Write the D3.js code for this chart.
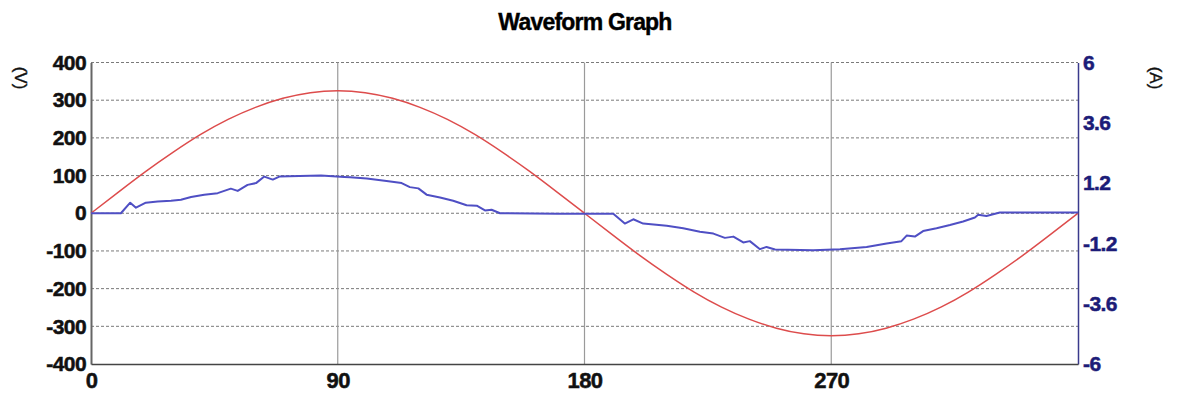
<!DOCTYPE html>
<html>
<head>
<meta charset="utf-8">
<script src="https://cdn.jsdelivr.net/npm/d3@7"></script>
<style>
  body { margin: 0; background: #fff; }
  svg { display: block; font-family: "Liberation Sans", Arial, sans-serif; }
</style>
</head>
<body>
<div id="chart"></div>
<script>
// phase angle (degrees) for the voltage trace
const voltageDeg = [0, 10, 20, 30, 40, 50, 60, 70, 80, 90, 100, 110, 120, 130, 140, 150, 160, 170, 180,
  190, 200, 210, 220, 230, 240, 250, 260, 270, 280, 290, 300, 310, 320, 330, 340, 350, 360];
// voltage (V)
const voltageV = [0, 56, 111, 162, 209, 249, 281, 305, 320, 325, 320, 305, 281, 249, 209, 162, 111, 56, 0,
  -56, -111, -162, -209, -249, -281, -305, -320, -325, -320, -305, -281, -249, -209, -162, -111, -56, 0];

// current trace (blue), right axis in A
const currentDeg = [0, 10.9, 14.3, 16.4, 20, 24.3, 29.2, 32.8, 36.5, 41.3, 46.2, 51, 53.5, 57.1, 60.2, 63.2,
  66.3, 68.7, 76, 83.9, 92.4, 94.5, 100.6, 107.8, 113.3, 116.3, 119.4, 122.4, 127.3, 132.1, 137, 140.7,
  143.7, 146.1, 149.2, 170, 190.5, 194.7, 197.8, 201.4, 210, 216, 222.1, 227, 231.2, 234.3, 237.9, 240.3,
  244, 246.4, 249.5, 263.4, 273.2, 282.9, 290.2, 295.6, 297.5, 300.5, 303.5, 308.4, 313.3, 318.1, 322.4,
  323.6, 326.6, 331.5, 360];
const currentA = [0, 0, 0.42, 0.22, 0.42, 0.47, 0.50, 0.54, 0.65, 0.74, 0.80, 0.98, 0.89, 1.13, 1.20, 1.46,
  1.34, 1.46, 1.48, 1.50, 1.44, 1.43, 1.38, 1.28, 1.20, 1.04, 0.99, 0.74, 0.63, 0.50, 0.32, 0.30,
  0.11, 0.14, 0, -0.02, -0.02, -0.41, -0.24, -0.41, -0.50, -0.60, -0.74, -0.81, -0.98, -0.93, -1.16, -1.11,
  -1.43, -1.34, -1.44, -1.47, -1.43, -1.34, -1.20, -1.11, -0.89, -0.93, -0.71, -0.60, -0.47, -0.33, -0.17,
  -0.06, -0.11, 0.03, 0.03];

const xTicks = [0, 90, 180, 270];
const vTicks = [400, 300, 200, 100, 0, -100, -200, -300, -400];
const aTicks = [6, 3.6, 1.2, -1.2, -3.6, -6];

const W = 1177, H = 403;
const margin = { top: 62.5, right: 99, bottom: 39, left: 91 };
const width = W - margin.left - margin.right;
const height = H - margin.top - margin.bottom;

const svg = d3.select("#chart").append("svg")
  .attr("width", W).attr("height", H);

const g = svg.append("g")
  .attr("transform", `translate(${margin.left},${margin.top})`);

// scales
const x = d3.scaleLinear().domain([0, 360]).range([0, width]);
const yV = d3.scaleLinear().domain([-400, 400]).range([height, 0]);
const yA = d3.scaleLinear().domain([-6, 6]).range([height, 0]);

// plain hyphen minus, like the original
const plain = d => String(d);

// title
svg.append("text")
  .attr("x", 585).attr("y", 30)
  .attr("text-anchor", "middle")
  .attr("font-size", 23).attr("font-weight", "bold")
  .attr("letter-spacing", -0.8)
  .attr("stroke", "#000").attr("stroke-width", 0.4)
  .text("Waveform Graph");

// horizontal dashed grid
g.append("g")
  .selectAll("line")
  .data(vTicks.filter(d => d !== -400))
  .join("line")
  .attr("x1", 0).attr("x2", width)
  .attr("y1", d => yV(d)).attr("y2", d => yV(d))
  .attr("stroke", "#7a7a7a").attr("stroke-width", 1)
  .attr("stroke-dasharray", "3,2");

// vertical grid
g.append("g")
  .selectAll("line")
  .data(xTicks.filter(d => d !== 0))
  .join("line")
  .attr("x1", d => x(d)).attr("x2", d => x(d))
  .attr("y1", 0).attr("y2", height)
  .attr("stroke", "#9a9a9a").attr("stroke-width", 1.2);

function styleTicks(sel, size, color) {
  sel.selectAll("text")
    .attr("font-size", size).attr("font-weight", "bold").attr("fill", color)
    .attr("stroke", color).attr("stroke-width", 0.5)
    .attr("letter-spacing", -0.6)
    .attr("font-family", "Liberation Sans, Arial, sans-serif");
}

// axes
const leftAxis = g.append("g")
  .call(d3.axisLeft(yV).tickValues(vTicks).tickSize(0).tickPadding(5).tickFormat(plain));
leftAxis.select(".domain").attr("stroke", "#666").attr("stroke-width", 2);
styleTicks(leftAxis, 21, "#111");

const rightAxis = g.append("g")
  .attr("transform", `translate(${width},0)`)
  .call(d3.axisRight(yA).tickValues(aTicks).tickSize(0).tickPadding(5).tickFormat(plain));
rightAxis.select(".domain").attr("stroke", "#3a3a8c").attr("stroke-width", 1.5);
styleTicks(rightAxis, 21, "#1c1c78");

const bottomAxis = g.append("g")
  .attr("transform", `translate(0,${height})`)
  .call(d3.axisBottom(x).tickValues(xTicks).tickSize(0).tickPadding(8).tickFormat(plain));
bottomAxis.select(".domain").attr("stroke", "#444").attr("stroke-width", 1.5);
styleTicks(bottomAxis, 22, "#111");

// axis unit labels
svg.append("text")
  .attr("transform", "translate(15,78) rotate(90)")
  .attr("text-anchor", "middle")
  .attr("font-size", 17).attr("fill", "#111")
  .attr("stroke", "#111").attr("stroke-width", 0.4)
  .text("(V)");
svg.append("text")
  .attr("transform", "translate(1150,78) rotate(90)")
  .attr("text-anchor", "middle")
  .attr("font-size", 17).attr("fill", "#111")
  .attr("stroke", "#111").attr("stroke-width", 0.4)
  .text("(A)");

// voltage trace
const vLine = d3.line()
  .x((d, i) => x(voltageDeg[i]))
  .y(d => yV(d))
  .curve(d3.curveNatural);
g.append("path")
  .datum(voltageV)
  .attr("fill", "none")
  .attr("stroke", "#dd4c4c")
  .attr("stroke-width", 1.5)
  .attr("d", vLine);

// current trace
const aLine = d3.line()
  .x((d, i) => x(currentDeg[i]))
  .y(d => yA(d));
g.append("path")
  .datum(currentA)
  .attr("fill", "none")
  .attr("stroke", "#4f4fc4")
  .attr("stroke-width", 2)
  .attr("stroke-linejoin", "round")
  .attr("d", aLine);
</script>
</body>
</html>
